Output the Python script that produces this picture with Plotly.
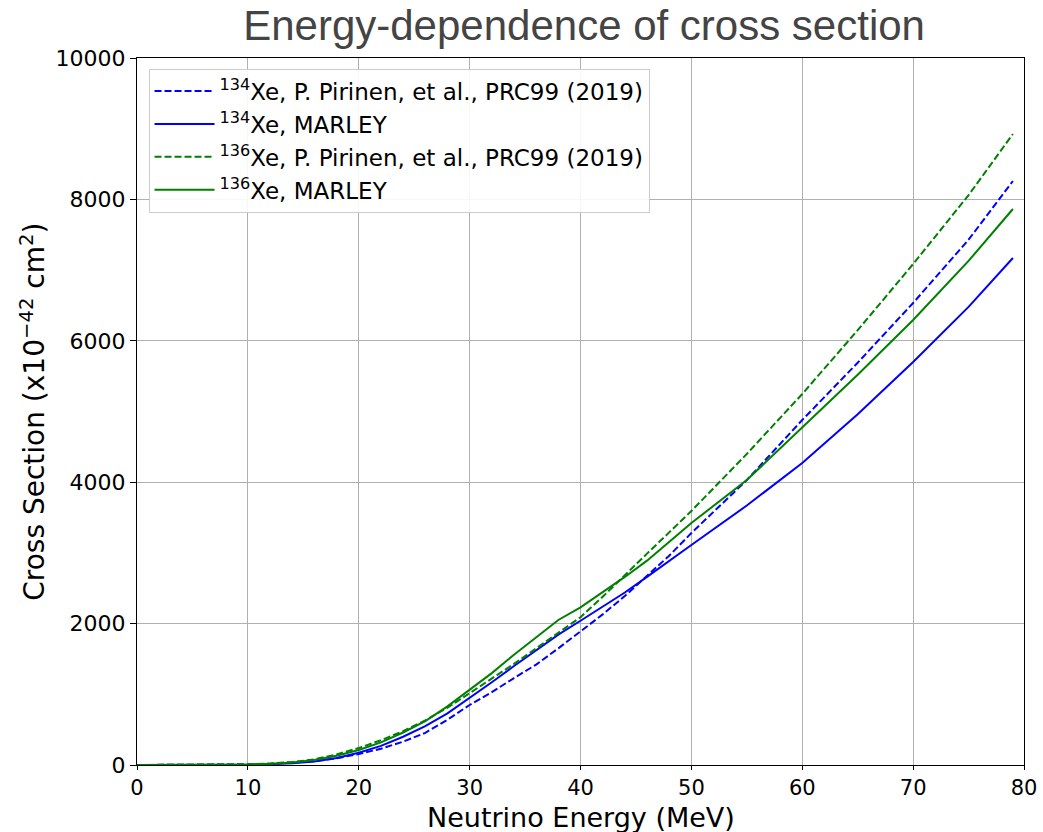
import plotly.graph_objects as go

# Neutrino energy (MeV)
energy = [0, 5, 10, 12, 14, 16, 18, 20, 22, 24, 26, 28, 30, 32, 34, 36, 38,
          40, 42, 44, 46, 48, 50, 55, 60, 65, 70, 75, 79]

# Cross sections (x10^-42 cm^2)
xe134_pirinen = [0, 0, 8, 15, 30, 55, 95, 156, 230, 330, 455, 640, 849, 1030,
                 1230, 1420, 1650, 1890, 2130, 2390, 2670, 2960, 3281, 4030,
                 4880, 5690, 6535, 7430, 8260]
xe134_marley = [0, 0, 5, 12, 25, 50, 100, 174, 270, 400, 550, 730, 948, 1170,
                1400, 1620, 1845, 2040, 2240, 2440, 2660, 2880, 3112, 3670,
                4272, 4960, 5700, 6480, 7171]
xe136_pirinen = [0, 0, 10, 22, 42, 80, 150, 240, 350, 480, 630, 810, 1018,
                 1220, 1430, 1650, 1870, 2090, 2380, 2690, 2990, 3290, 3593,
                 4400, 5248, 6150, 7086, 8060, 8925]
xe136_marley = [0, 0, 8, 18, 35, 70, 130, 212, 320, 460, 620, 830, 1061, 1300,
                1560, 1810, 2051, 2230, 2440, 2660, 2890, 3150, 3423, 4030,
                4781, 5520, 6294, 7130, 7864]

names = [
    "<sup>134</sup>Xe, P. Pirinen, et al., PRC99 (2019)",
    "<sup>134</sup>Xe, MARLEY",
    "<sup>136</sup>Xe, P. Pirinen, et al., PRC99 (2019)",
    "<sup>136</sup>Xe, MARLEY",
]
series = [xe134_pirinen, xe134_marley, xe136_pirinen, xe136_marley]
colors = ["#0000ff", "#0000ff", "#008000", "#008000"]
dashes = ["7px,3px", "solid", "7px,3px", "solid"]

x_title = "Neutrino Energy (MeV)"
y_title = "Cross Section (x10<sup>\u221242</sup> cm<sup>2</sup>)"

fig = go.Figure()
for n, s, c, d in zip(names, series, colors, dashes):
    fig.add_trace(go.Scatter(x=energy, y=s, mode="lines", name=n,
                             line=dict(color=c, width=2, dash=d)))

axis_common = dict(
    showline=True, linecolor="black", linewidth=1.2, mirror=True,
    ticks="outside", tickcolor="black", tickwidth=1.2,
    showgrid=True, gridcolor="#b0b0b0", gridwidth=1, zeroline=False,
    automargin=False,
)

fig.update_layout(
    width=1043, height=832,
    margin=dict(l=137, r=19, t=58, b=67),
    paper_bgcolor="white", plot_bgcolor="white",
    title=dict(text="Energy-dependence of cross section",
               font=dict(family="Liberation Sans", size=42, color="#444444"),
               x=0.56, xanchor="center", y=0.97, yanchor="middle"),
    xaxis=dict(range=[0, 80], dtick=10, tick0=0, ticklen=4,
               tickfont=dict(family="DejaVu Sans", size=21, color="black"),
               **axis_common),
    yaxis=dict(range=[0, 10000], dtick=2000, tick0=0, tickformat="d",
               ticklen=6,
               tickfont=dict(family="DejaVu Sans", size=22, color="black"),
               **axis_common),
    legend=dict(x=0.013, y=0.985, xanchor="left", yanchor="top",
                bgcolor="rgba(255,255,255,0.9)", bordercolor="#cccccc",
                borderwidth=1, tracegroupgap=0, itemwidth=60,
                font=dict(family="DejaVu Sans", size=23, color="black")),
    showlegend=True,
    annotations=[
        dict(text=x_title, xref="paper", yref="paper", x=0.5, y=-0.074,
             xanchor="center", yanchor="middle", showarrow=False,
             font=dict(family="DejaVu Sans", size=27, color="black")),
        dict(text=y_title, xref="paper", yref="paper", x=-0.117, y=0.5,
             xanchor="center", yanchor="middle", showarrow=False,
             textangle=-90,
             font=dict(family="DejaVu Sans", size=28, color="black")),
    ],
)

fig.write_html("out.html")
